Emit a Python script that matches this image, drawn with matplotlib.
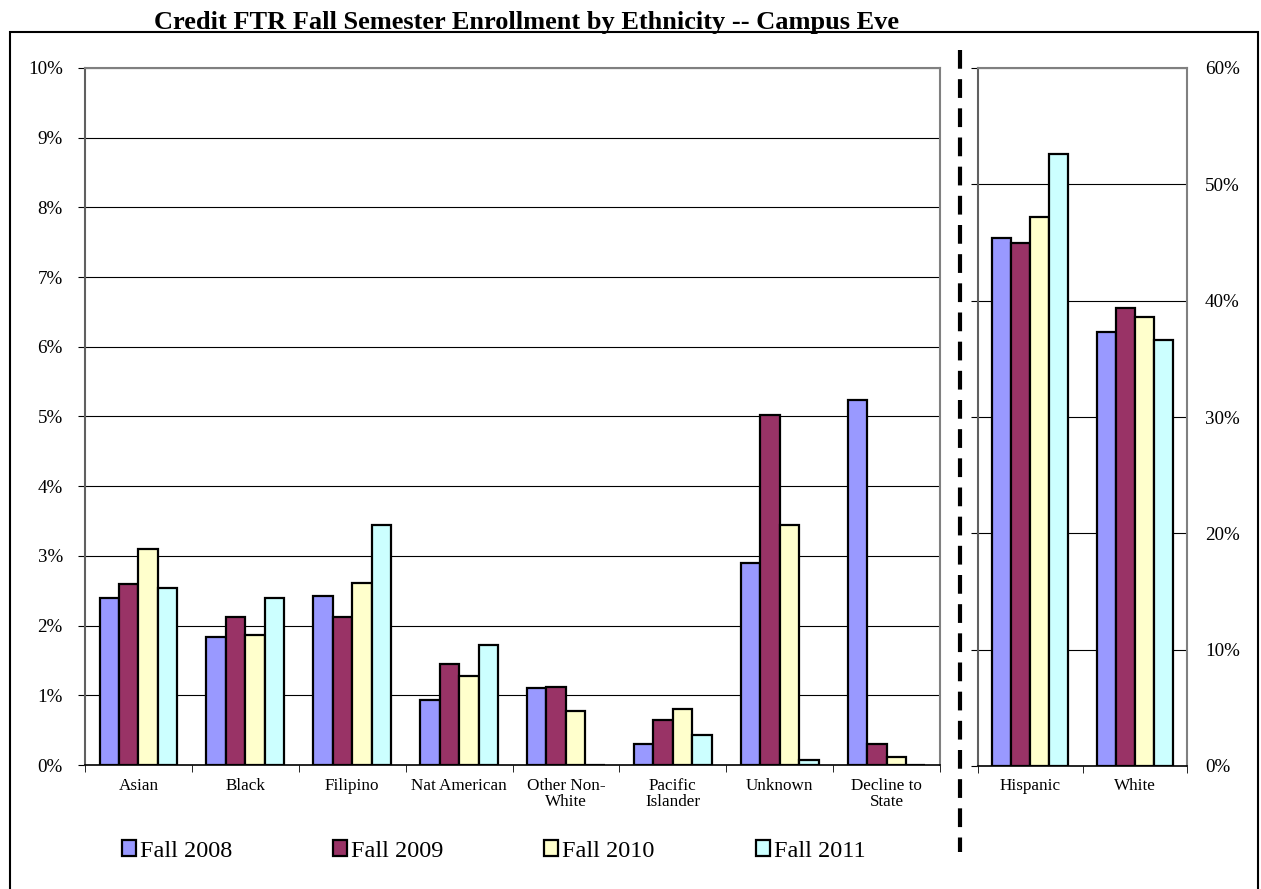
import matplotlib.pyplot as plt
from matplotlib.patches import Rectangle
from matplotlib.lines import Line2D
import numpy as np

plt.rcParams['font.family'] = ['Liberation Serif', 'DejaVu Serif']

small_cats = ['Asian', 'Black', 'Filipino', 'Nat American', 'Other Non-\nWhite',
              'Pacific\nIslander', 'Unknown', 'Decline to\nState']
big_cats = ['Hispanic', 'White']
years = ['Fall 2008', 'Fall 2009', 'Fall 2010', 'Fall 2011']
colors = ['#9999FF', '#993366', '#FFFFCC', '#CCFFFF']

# percent of enrollment, small groups (left axis)
fall_2008 = [2.40, 1.84, 2.43, 0.93, 1.11, 0.30, 2.90, 5.23]
fall_2009 = [2.60, 2.12, 2.12, 1.45, 1.12, 0.64, 5.02, 0.30]
fall_2010 = [3.10, 1.87, 2.61, 1.27, 0.78, 0.80, 3.45, 0.12]
fall_2011 = [2.54, 2.39, 3.44, 1.72, 0.00, 0.43, 0.07, 0.00]

# percent of enrollment, large groups (right axis)
big_2008 = [45.4, 37.3]
big_2009 = [45.0, 39.4]
big_2010 = [47.2, 38.6]
big_2011 = [52.6, 36.6]

small_series = [fall_2008, fall_2009, fall_2010, fall_2011]
big_series = [big_2008, big_2009, big_2010, big_2011]

W, H = 1261, 889
fig = plt.figure(figsize=(W / 100, H / 100), dpi=100)

ax1 = fig.add_axes([85 / W, 1 - 765 / H, 855 / W, 697 / H])
ax2 = fig.add_axes([978 / W, 1 - 766 / H, 209 / W, 698 / H])

bw = 0.182


def draw_bars(ax, cats, series):
    x = np.arange(len(cats))
    for i, vals in enumerate(series):
        ax.bar(x + (i - 1.5) * bw, vals, width=bw, color=colors[i],
               edgecolor='black', linewidth=1.6, zorder=3, label=years[i])
    ax.set_xlim(-0.5, len(cats) - 0.5)
    ax.set_xticks(x)
    ax.set_xticklabels(cats, fontsize=12.3, linespacing=1.05)
    ax.set_xticks(np.arange(len(cats) + 1) - 0.5, minor=True)
    ax.tick_params(axis='x', which='major', length=0, pad=9)
    ax.tick_params(axis='x', which='minor', length=5, color='black', direction='out')
    ax.yaxis.grid(True, color='black', linewidth=0.8, zorder=0)
    for s in ['top', 'right']:
        ax.spines[s].set_color('#808080')
        ax.spines[s].set_linewidth(1.5)
    ax.spines['left'].set_color('#606060')
    ax.spines['left'].set_linewidth(1.5)
    ax.spines['bottom'].set_color('black')
    ax.spines['bottom'].set_linewidth(1.2)


draw_bars(ax1, small_cats, small_series)
ax1.set_ylim(0, 10)
ax1.set_yticks(np.arange(0, 11, 1))
ax1.set_yticklabels([f'{v}%' for v in range(0, 11)], fontsize=13.7)
ax1.tick_params(axis='y', length=5, direction='out', pad=11)

draw_bars(ax2, big_cats, big_series)
ax2.set_ylim(0, 60)
ax2.set_yticks(np.arange(0, 61, 10))
ax2.set_yticklabels([f'{v}%' for v in range(0, 61, 10)], fontsize=13.7)
ax2.tick_params(axis='y', left=True, labelleft=False, right=False,
                labelright=True, length=5, direction='out', pad=8)

# title
fig.text(527 / W, 1 - 29 / H, 'Credit FTR Fall Semester Enrollment by Ethnicity -- Campus Eve',
         ha='center', va='baseline', fontsize=19, fontweight='bold')

# outer border
fig.patches.append(Rectangle((10 / W, -0.05), (W - 13) / W, 1 - 32 / H + 0.05,
                             transform=fig.transFigure, fill=False,
                             edgecolor='black', linewidth=1.5))

# dashed separator
fig.add_artist(Line2D([960 / W, 960 / W], [1 - 50 / H, 1 - 852 / H],
                      transform=fig.transFigure, color='black', linewidth=3,
                      linestyle=(0, (4.5, 2.5))))

handles, labels = ax1.get_legend_handles_labels()
fig.legend(handles, labels, loc='center left', bbox_to_anchor=(122 / W, 1 - 851 / H),
           ncol=4, frameon=False, fontsize=17.5, handlelength=0.58, handleheight=0.58,
           handletextpad=0.16, columnspacing=4.15, borderpad=0, borderaxespad=0)

fig.savefig('out.png', dpi=100)
